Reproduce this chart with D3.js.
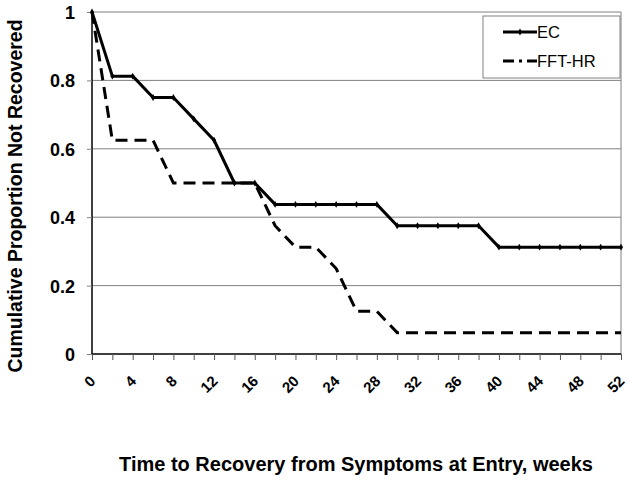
<!DOCTYPE html>
<html><head><meta charset="utf-8">
<script src="https://cdn.jsdelivr.net/npm/d3@7"></script>
<style>body{margin:0;background:#fff;} svg{display:block;font-family:"Liberation Sans",Arial,sans-serif;}</style>
</head><body><svg id="c" width="629" height="480"></svg>
<script>
const weeks = [0,2,4,6,8,10,12,14,16,18,20,22,24,26,28,30,32,34,36,38,40,42,44,46,48,50,52];
const ec    = [1,0.8125,0.8125,0.75,0.75,0.6875,0.625,0.5,0.5,0.4375,0.4375,0.4375,0.4375,0.4375,0.4375,0.375,0.375,0.375,0.375,0.375,0.3125,0.3125,0.3125,0.3125,0.3125,0.3125,0.3125];
const fft   = [1,0.625,0.625,0.625,0.5,0.5,0.5,0.5,0.5,0.375,0.3125,0.3125,0.25,0.125,0.125,0.0625,0.0625,0.0625,0.0625,0.0625,0.0625,0.0625,0.0625,0.0625,0.0625,0.0625,0.0625];
const xTickLabels = [0,4,8,12,16,20,24,28,32,36,40,44,48,52];
const yTicks = [0,0.2,0.4,0.6,0.8,1];
const yTickLabels = ["0","0.2","0.4","0.6","0.8","1"];
const seriesNames = ["EC","FFT-HR"];

const FONT = "Liberation Sans, Arial, sans-serif";
const svg = d3.select("#c");
const L=92, R=621, T=12, B=354;
const x = d3.scaleLinear().domain([0,52]).range([L,R]);
const y = d3.scaleLinear().domain([0,1]).range([B,T]);

// gridlines
svg.append("g").selectAll("line").data(yTicks.filter(d=>d>0)).join("line")
  .attr("x1",L).attr("x2",R).attr("y1",d=>y(d)).attr("y2",d=>y(d))
  .attr("stroke","#808080").attr("stroke-width",1);
// right border
svg.append("line").attr("x1",R).attr("x2",R).attr("y1",T).attr("y2",B).attr("stroke","#808080");

// y axis
const ya = svg.append("g").attr("transform",`translate(${L},0)`)
  .call(d3.axisLeft(y).tickValues(yTicks).tickFormat((d,i)=>yTickLabels[i]).tickSize(5).tickPadding(12));
ya.select(".domain").attr("stroke","#000").attr("stroke-width",1.5).attr("d",`M0,${T}V${B}`);
ya.selectAll(".tick line").attr("stroke","#808080");
ya.selectAll("text").attr("font-size",18).attr("font-weight","bold").attr("fill","#000").attr("font-family",FONT).attr("dy","0.36em");

// x axis
const xa = svg.append("g").attr("transform",`translate(0,${B})`)
  .call(d3.axisBottom(x).tickValues(weeks).tickSize(6).tickFormat(d=>xTickLabels.includes(d)?d:""));
xa.select(".domain").attr("stroke","#000").attr("stroke-width",1.5).attr("d",`M${L},0H${R}`);
xa.selectAll(".tick line").attr("stroke","#555");
xa.selectAll("text").attr("font-size",15).attr("font-weight","bold").attr("fill","#000")
  .attr("font-family",FONT)
  .attr("text-anchor","end").attr("dy",0).attr("y",0)
  .attr("transform","translate(4,28) rotate(-45)");

// lines
const line = d3.line().x((d,i)=>x(weeks[i])).y(d=>y(d));
svg.append("path").datum(fft).attr("d",line).attr("fill","none").attr("stroke","#000")
  .attr("stroke-width",3).attr("stroke-dasharray","12,7");
svg.append("path").datum(ec).attr("d",line).attr("fill","none").attr("stroke","#000")
  .attr("stroke-width",3).attr("stroke-linejoin","round");
const diamond = d3.symbol().type(d3.symbolDiamond).size(14);
svg.append("g").selectAll("path").data(ec).join("path")
  .attr("d",diamond).attr("transform",(d,i)=>`translate(${x(weeks[i])},${y(d)})`).attr("fill","#000");

// legend
const lg = svg.append("g");
lg.append("rect").attr("x",483).attr("y",16).attr("width",137).attr("height",62)
  .attr("fill","#fff").attr("stroke","#808080").attr("stroke-width",1);
lg.append("line").attr("x1",503).attr("x2",537).attr("y1",32).attr("y2",32).attr("stroke","#000").attr("stroke-width",3);
lg.append("path").attr("d",diamond).attr("transform","translate(520,32)").attr("fill","#000");
lg.append("line").attr("x1",503).attr("x2",537).attr("y1",61).attr("y2",61).attr("stroke","#000").attr("stroke-width",3).attr("stroke-dasharray","11,5,3,5,11");
lg.selectAll("text.lt").data(seriesNames).join("text").attr("class","lt")
  .attr("x",537).attr("y",(d,i)=>38+i*29).attr("font-size",16.5).attr("fill","#000").attr("font-family",FONT).text(d=>d);

// axis titles
svg.append("text").attr("x",356).attr("y",471).attr("text-anchor","middle")
  .attr("font-size",20).attr("font-weight","bold").attr("fill","#000").attr("font-family",FONT)
  .text("Time to Recovery from Symptoms at Entry, weeks");
svg.append("text").attr("transform","translate(22,196) rotate(-90)").attr("text-anchor","middle")
  .attr("font-size",19.5).attr("font-weight","bold").attr("fill","#000").attr("font-family",FONT)
  .text("Cumulative Proportion Not Recovered");
</script></body></html>
